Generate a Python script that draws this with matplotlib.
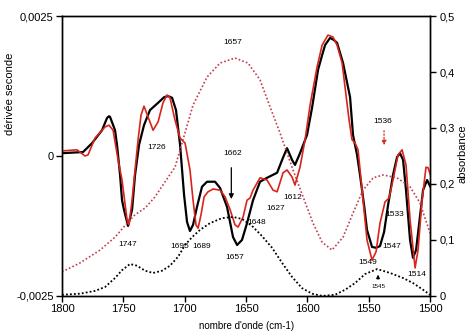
import numpy as np
import matplotlib
matplotlib.use("Agg")
from matplotlib import pyplot as plt

plt.rcParams.update({'font.family': 'Liberation Sans', 'font.size': 8})

# second derivative, sample 1 (black) - units of 1e-4
wn_black = [1800, 1782.9, 1775.5, 1767.4, 1763.3, 1761.7, 1760.9, 1756.8, 1755.2, 1752.7, 1751.1, 1749.5,
            1746.2, 1742.9, 1740.5, 1737.2, 1733.2, 1728.3, 1721.7, 1716.8, 1713.6, 1710.3, 1707.1, 1703.8,
            1700.5, 1698.1, 1695.7, 1693.2, 1690.0, 1685.9, 1681.8, 1675.3, 1671.2, 1665.5, 1660.6, 1657.3,
            1653.3, 1649.2, 1644.3, 1638.6, 1632.9, 1624.7, 1620.6, 1616.6, 1612.5, 1610.1, 1606.0, 1600.3,
            1596.2, 1591.3, 1588.0, 1585.6, 1581.5, 1578.3, 1575.8, 1570.9, 1565.2, 1562.8, 1559.5, 1557.1,
            1553.8, 1551.4, 1547.3, 1544.0, 1540.8, 1537.5, 1534.2, 1530.2, 1526.9, 1524.5, 1522.0, 1519.6,
            1516.3, 1513.9, 1511.4, 1509.0, 1505.7, 1502.4, 1500]
d_black = [0.5, 0.7, 2.3, 4.6, 6.8, 7.1, 7.0, 4.6, 2.0, -3.4, -7.9, -9.6,
           -12.5, -9.6, -3.4, 2.0, 5.5, 8.2, 9.5, 10.5, 10.7, 10.4, 8.2, 2.0,
           -7.0, -11.8, -13.4, -12.3, -9.1, -5.5, -4.6, -4.6, -5.7, -9.1, -14.5, -15.9,
           -15.0, -12.0, -7.9, -4.6, -3.9, -3.0, -0.7, 1.4, -0.7, -1.6, 0.5, 3.75,
           8.6, 15.4, 18.0, 19.8, 21.1, 20.7, 20.2, 16.6, 10.5, 3.75, 0.2, -3.4,
           -8.75, -13.2, -16.25, -16.4, -16.1, -13.6, -8.75, -3.4, -0.2, 0.5, -0.7, -6.1,
           -15.0, -18.2, -16.8, -12.3, -6.1, -4.3, -5.4]

# second derivative, sample 2 (red) - units of 1e-4
wn_red = [1800, 1787.8, 1781.3, 1778.8, 1773.1, 1764.9, 1761.7, 1758.4, 1754.3, 1751.1, 1747.0, 1745.4,
          1742.9, 1740.5, 1738.0, 1735.6, 1733.2, 1729.9, 1725.8, 1721.7, 1717.7, 1714.4, 1712.0, 1707.9,
          1703.8, 1699.7, 1695.7, 1693.2, 1690.8, 1689.1, 1686.7, 1684.2, 1681.0, 1676.9, 1671.2, 1667.1,
          1663.0, 1659.0, 1656.5, 1652.4, 1649.2, 1646.7, 1644.3, 1638.6, 1632.9, 1628.0, 1624.7, 1619.8,
          1616.6, 1612.5, 1610.1, 1606.0, 1601.9, 1597.8, 1592.1, 1588.0, 1583.2, 1579.1, 1575.8, 1571.7,
          1569.3, 1566.0, 1563.6, 1561.1, 1558.7, 1555.4, 1551.4, 1547.3, 1544.0, 1540.8, 1536.7, 1533.4,
          1530.2, 1526.1, 1522.8, 1519.6, 1516.3, 1512.2, 1509.8, 1506.5, 1503.3, 1501.6, 1500]
d_red = [0.9, 1.1, 0.0, 0.2, 3.2, 5.2, 5.5, 4.6, -0.7, -4.3, -11.4, -12.3,
         -7.9, -2.5, 2.9, 7.3, 8.9, 7.0, 4.6, 6.1, 9.5, 10.9, 10.4, 6.4,
         3.2, 2.3, -2.5, -7.9, -12.3, -12.9, -10.5, -7.3, -6.4, -5.9, -6.1, -7.3,
         -9.6, -12.3, -12.7, -10.9, -7.9, -7.5, -6.1, -3.9, -4.3, -6.1, -6.4, -3.0,
         -2.5, -3.75, -5.2, -2.0, 2.9, 9.1, 15.9, 19.8, 21.6, 21.25, 19.8, 16.6,
         12.3, 6.4, 2.9, 2.3, 1.1, -6.1, -15.0, -18.6, -17.1, -12.0, -8.2, -7.5,
         -4.3, 0.2, 1.1, -1.6, -11.4, -20.0, -16.8, -7.9, -2.0, -2.1, -3.2]

# absorbance, sample 1 (black dotted)
wn_abs_black = [1800, 1785.3, 1773.1, 1764.9, 1756.8, 1751.1, 1744.6, 1738.9, 1732.3, 1725.8, 1718.5,
                1712.0, 1705.4, 1699.7, 1694.0, 1687.5, 1679.4, 1669.6, 1660.6, 1653.3, 1645.1, 1637.0,
                1628.8, 1620.6, 1612.5, 1604.4, 1596.2, 1588.0, 1577.5, 1569.3, 1561.1, 1553.0, 1543.2,
                1532.6, 1522.0, 1513.9, 1505.7, 1500]
abs_black = [0.002, 0.004, 0.009, 0.016, 0.032, 0.046, 0.057, 0.054, 0.045, 0.041, 0.045,
             0.054, 0.070, 0.091, 0.105, 0.118, 0.130, 0.139, 0.141, 0.1375, 0.125, 0.107,
             0.086, 0.059, 0.034, 0.014, 0.004, 0.0, 0.002, 0.011, 0.023, 0.039, 0.048,
             0.041, 0.032, 0.023, 0.011, 0.002]

# absorbance, sample 2 (red dotted)
wn_abs_red = [1800, 1785.3, 1769.0, 1756.8, 1746.2, 1740.5, 1732.3, 1724.2, 1716.0, 1707.9, 1701.4,
              1693.2, 1681.8, 1671.2, 1659.0, 1648.4, 1638.6, 1630.4, 1622.3, 1611.7, 1603.5, 1595.4,
              1588.0, 1579.9, 1570.9, 1562.8, 1554.6, 1546.4, 1538.3, 1526.9, 1516.3, 1508.2, 1500]
abs_red = [0.043, 0.059, 0.082, 0.105, 0.132, 0.145, 0.157, 0.177, 0.204, 0.230, 0.279,
           0.341, 0.391, 0.416, 0.425, 0.416, 0.386, 0.3375, 0.291, 0.225, 0.177, 0.130,
           0.096, 0.082, 0.105, 0.148, 0.189, 0.211, 0.216, 0.211, 0.195, 0.166, 0.1125]

# (text, wavenumber, second derivative in 1e-4)
labels = [("1657", 1660.6, 20.2), ("1726", 1722.6, 1.6), ("1747", 1746.2, -15.9),
          ("1695", 1704.0, -16.25), ("1689", 1686.0, -16.25), ("1662", 1660.6, 0.5),
          ("1648", 1641.0, -11.8), ("1657", 1659.0, -18.2), ("1627", 1626.0, -9.3),
          ("1612", 1611.7, -7.5), ("1536", 1538.3, 6.1), ("1533", 1528.5, -10.5),
          ("1547", 1531.0, -16.25), ("1549", 1550.5, -19.1), ("1514", 1510.6, -21.25)]

RED = "#d8241c"
RED_DOT = "#c43c4c"


def main():
    fig = plt.figure(figsize=(4.70, 3.34), dpi=100)
    ax = fig.add_axes([0.132, 0.114, 0.783, 0.838])
    ax2 = ax.twinx()

    ax2.plot(wn_abs_red, abs_red, color=RED_DOT, linestyle=(0, (1, 1.3)), linewidth=1.2)
    ax2.plot(wn_abs_black, abs_black, color="black", linestyle=(0, (1, 1.2)), linewidth=1.3)

    scale = 1e-4
    ax.plot(wn_black, np.array(d_black) * scale, color="black", linewidth=1.6, zorder=3)
    ax.plot(wn_red, np.array(d_red) * scale, color=RED, linewidth=1.2, zorder=4)

    for txt, w, v in labels:
        ax.text(w, v * scale, txt, fontsize=6, ha="center", va="center")
    # arrows
    ax.annotate("", xy=(1662, -8.2e-4), xytext=(1662, -1.6e-4),
                arrowprops=dict(arrowstyle="-|>", color="black", lw=0.9, mutation_scale=7))
    ax.annotate("", xy=(1537.5, 1.4e-4), xytext=(1537.5, 5.0e-4),
                arrowprops=dict(arrowstyle="-|>", color=RED, lw=0.9, linestyle=":", mutation_scale=7))
    ax.annotate("", xy=(1542.4, -20.7e-4), xytext=(1542.4, -22.5e-4),
                arrowprops=dict(arrowstyle="-|>", color="black", lw=0.8, mutation_scale=5))
    ax.text(1542.4, -23.4e-4, "1545", fontsize=4.5, ha="center", va="center")

    ax.set_xlim(1800, 1500)
    ax.set_ylim(-0.0025, 0.0025)
    ax2.set_ylim(0, 0.5)

    ax.set_xticks([1800, 1750, 1700, 1650, 1600, 1550, 1500])
    ax.set_xticklabels(["1800", "1750", "1700", "1650", "1600", "1550", "1500"], fontsize=8)
    ax.set_yticks([-0.0025, 0, 0.0025])
    ax.set_yticklabels(["-0,0025", "0", "0,0025"], fontsize=8)
    ax2.set_yticks([0, 0.1, 0.2, 0.3, 0.4, 0.5])
    ax2.set_yticklabels(["0", "0,1", "0,2", "0,3", "0,4", "0,5"], fontsize=8)
    ax.tick_params(direction="out", length=4, width=1, pad=2)
    ax2.tick_params(direction="out", length=4, width=1, pad=3)

    for a in (ax, ax2):
        for s in a.spines.values():
            s.set_linewidth(1.0)

    fig.text(0.525, 0.025, "nombre d'onde (cm-1)", fontsize=7, ha="center", va="center")
    fig.text(0.022, 0.72, "dérivée seconde", fontsize=8, rotation=90, ha="center", va="center")
    fig.text(0.985, 0.54, "absorbance", fontsize=8, rotation=90, ha="center", va="center")

    fig.savefig("out.png", dpi=100)


if __name__ == "__main__":
    main()
